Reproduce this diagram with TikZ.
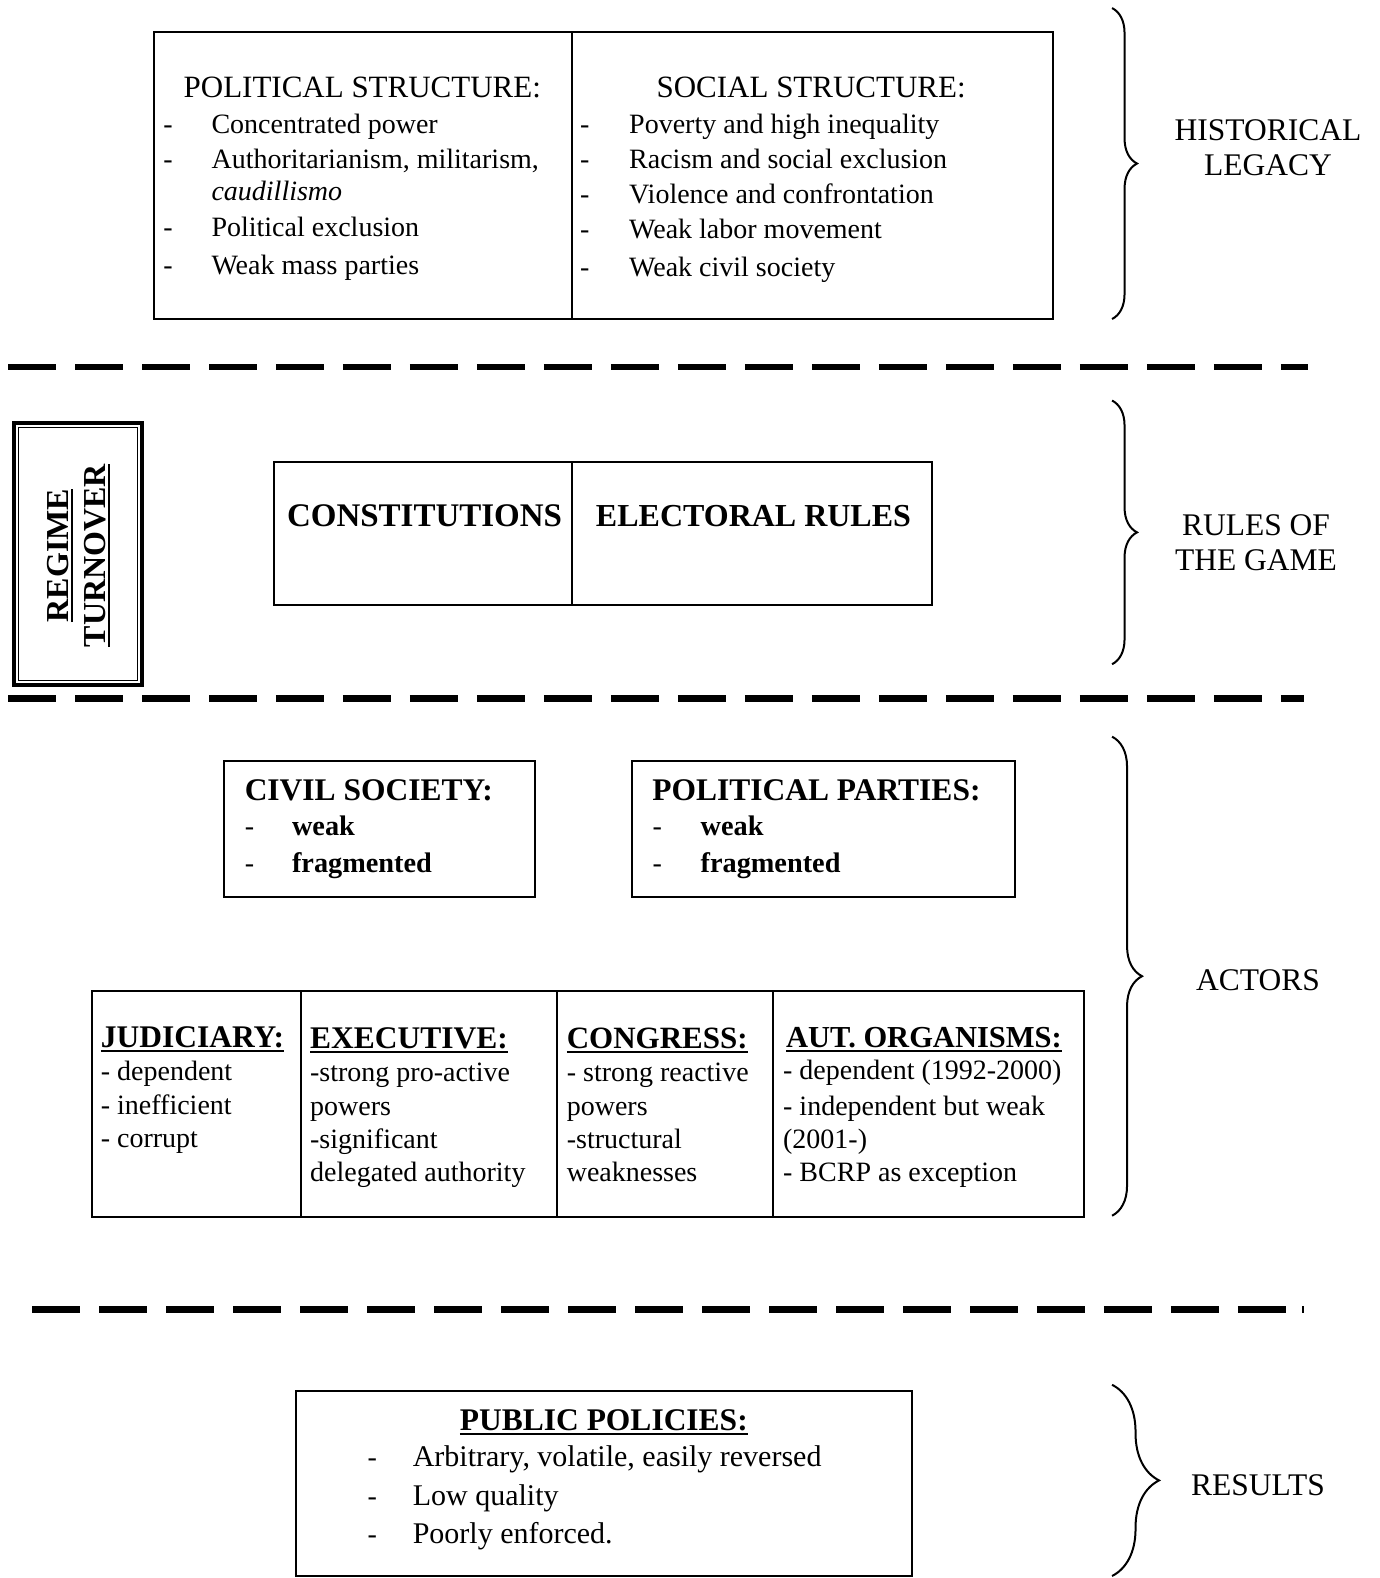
\documentclass[tikz,border=0pt]{standalone}
\usepackage{fontspec}
\setmainfont{Liberation Serif}
\usetikzlibrary{decorations.pathreplacing}
\newcommand\myul[1]{\setbox0\hbox{#1}\rlap{\rule[-4.5pt]{\wd0}{1.8pt}}\box0}
\tikzset{
  box/.style={line width=2pt},
  sep/.style={line width=6.7pt, dash pattern=on 48pt off 19pt},
  txt/.style={font=\fontsize{28}{34}\selectfont, inner sep=0pt, anchor=base west},
  ctxt/.style={font=\fontsize{31}{34}\selectfont, inner sep=0pt, anchor=base},
  dsh/.style={font=\fontsize{28}{34}\selectfont, inner sep=0pt, anchor=base},
  btxt/.style={font=\fontsize{31.5}{34}\selectfont\bfseries, inner sep=0pt, anchor=base west},
  bsub/.style={font=\fontsize{28.3}{34}\selectfont\bfseries, inner sep=0pt, anchor=base west},
  lbl/.style={font=\fontsize{31.5}{35}\selectfont, inner sep=0pt, align=center, anchor=base},
  brc/.style={line width=2pt, decorate},
}
\begin{document}
\begin{tikzpicture}[x=1.0066pt, y=-1.0066pt]
\useasboundingbox (0,0) rectangle (1371,1568);
% ---------- Historical legacy ----------
\draw[box] (153,32) rectangle (1046,317);
\draw[box] (568,32) -- (568,317);
\node[ctxt] (ph) at (360,97) {POLITICAL STRUCTURE:};
\foreach \y/\t [count=\i] in {133/Concentrated power, 167/{Authoritarianism, militarism,}, 235/Political exclusion, 273/Weak mass parties}{
  \node[dsh] (pd\i) at (167,\y) {-};
  \node[txt] (pt\i) at (210,\y) {\t};
}
\node[txt] (pt5) at (210,199) {\textit{caudillismo}};
\node[ctxt] (sh) at (806,97) {SOCIAL STRUCTURE:};
\foreach \y/\t [count=\i] in {133/Poverty and high inequality, 167/Racism and social exclusion, 202/Violence and confrontation, 237/Weak labor movement, 275/Weak civil society}{
  \node[dsh] (sd\i) at (581,\y) {-};
  \node[txt] (st\i) at (625,\y) {\t};
}
\draw[brc, decoration={brace, amplitude=25pt}] (1105,8) -- (1105,317);
\node[lbl] (hl) at (1260,174) {HISTORICAL\\LEGACY};
% ---------- separator 1 ----------
\draw[sep] (8,364.6) -- (1300,364.6);
% ---------- Regime turnover ----------
\draw[line width=4pt] (14,420) rectangle (141.5,681);
\draw[line width=1pt] (18.5,424.5) rectangle (137,676.5);
\node[font=\fontsize{32}{37}\selectfont\bfseries, inner sep=0pt, rotate=90, align=center] (rt) at (78,552) {\myul{REGIME}\\\myul{TURNOVER}};
% ---------- Rules of the game ----------
\draw[box] (272,459) rectangle (926,601);
\draw[box] (568,459) -- (568,601);
\node[btxt, font=\fontsize{33}{34}\selectfont\bfseries] (con) at (285,523) {CONSTITUTIONS};
\node[btxt, font=\fontsize{32}{34}\selectfont\bfseries] (ele) at (592,523) {ELECTORAL RULES};
\draw[brc, decoration={brace, amplitude=25pt}] (1105,398) -- (1105,660);
\node[lbl] (rg) at (1248,567) {RULES OF\\THE GAME};
% ---------- separator 2 ----------
\draw[sep] (8,694) -- (1296,694);
% ---------- Actors ----------
\draw[box] (223,756) rectangle (532,891);
\node[btxt] (cs) at (243,795) {CIVIL SOCIETY:};
\node[dsh] (csd1) at (248,830) {-};
\node[bsub] (cst1) at (290,830) {weak};
\node[dsh] (csd2) at (248,867) {-};
\node[bsub] (cst2) at (290,867) {fragmented};
\draw[box] (628,756) rectangle (1009,891);
\node[btxt] (pp) at (648,795) {POLITICAL PARTIES:};
\node[dsh] (ppd1) at (653,830) {-};
\node[bsub] (ppt1) at (696,830) {weak};
\node[dsh] (ppd2) at (653,867) {-};
\node[bsub] (ppt2) at (696,867) {fragmented};
\draw[box] (91,985) rectangle (1077,1209);
\foreach \x in {299,553,768} \draw[box] (\x,985) -- (\x,1209);
\node[btxt] (ju) at (100,1041) {\myul{JUDICIARY:}};
\node[txt] (ju1) at (100,1074) {- dependent};
\node[txt] (ju2) at (100,1107) {- inefficient};
\node[txt] (ju3) at (100,1140) {- corrupt};
\node[btxt] (ex) at (308,1042) {\myul{EXECUTIVE:}};
\node[txt] (ex1) at (308,1075) {-strong pro-active};
\node[txt] (ex2) at (308,1108) {powers};
\node[txt] (ex3) at (308,1141) {-significant};
\node[txt] (ex4) at (308,1174) {delegated authority};
\node[btxt, font=\fontsize{31}{34}\selectfont\bfseries] (cg) at (563,1042) {\myul{CONGRESS:}};
\node[txt] (cg1) at (563,1075) {- strong reactive};
\node[txt] (cg2) at (563,1108) {powers};
\node[txt] (cg3) at (563,1141) {-structural};
\node[txt] (cg4) at (563,1174) {weaknesses};
\node[btxt, font=\fontsize{30.5}{34}\selectfont\bfseries] (ao) at (781,1041) {\myul{AUT. ORGANISMS:}};
\node[txt] (ao1) at (778,1073) {- dependent (1992-2000)};
\node[txt] (ao2) at (778,1108) {- independent but weak};
\node[txt] (ao3) at (778,1141) {(2001-)};
\node[txt] (ao4) at (778,1174) {- BCRP as exception};
\draw[brc, decoration={brace, amplitude=30pt}] (1105,732) -- (1105,1208);
\node[lbl] (ac) at (1250,984) {ACTORS};
% ---------- separator 3 ----------
\draw[sep] (32,1301) -- (1278,1301);
\draw[line width=6.7pt] (1294,1301) -- (1295.5,1301);
% ---------- Results ----------
\draw[box] (294,1382) rectangle (906,1566);
\node[btxt, anchor=base] (pu) at (600,1421) {\myul{PUBLIC POLICIES:}};
\foreach \y/\t [count=\i] in {1457/{Arbitrary, volatile, easily reversed}, 1496/Low quality, 1534/Poorly enforced.}{
  \node[dsh] (pud\i) at (370,\y) {-};
  \node[txt, font=\fontsize{30}{34}\selectfont] (put\i) at (410,\y) {\t};
}
\draw[brc, decoration={brace, amplitude=47pt}] (1105,1376) -- (1105,1566);
\node[lbl] (re) at (1250,1486) {RESULTS};
\end{tikzpicture}
\end{document}
